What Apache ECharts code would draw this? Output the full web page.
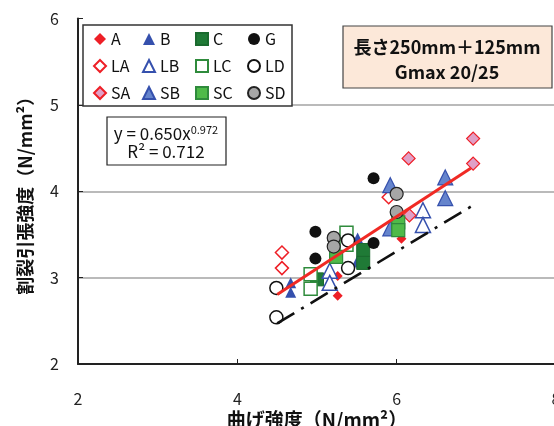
<!DOCTYPE html>
<html>
<head>
<meta charset="utf-8">
<script src="https://cdn.jsdelivr.net/npm/echarts@6/dist/echarts.min.js"></script>
<style>
  html, body { margin: 0; padding: 0; background: #fff; }
  #chart { width: 554px; height: 426px; }
</style>
</head>
<body>
<div id="chart"></div>
<script>
const FONT = '"Noto Sans CJK JP", "Noto Sans", sans-serif';

// Specimen results: [flexural strength, splitting tensile strength] (N/mm²)
const A  = [[5.26, 3.02], [5.26, 2.79], [6.06, 3.45]];
const B  = [[4.67, 2.94], [4.67, 2.83], [5.50, 3.18], [5.51, 3.46]];
const C  = [[5.58, 3.32], [5.58, 3.17], [5.00, 2.98]];
const G  = [[5.71, 4.15], [4.98, 3.53], [4.98, 3.22], [5.71, 3.40]];
const LA = [[4.56, 3.29], [4.56, 3.11], [5.90, 3.93]];
const LB = [[5.16, 3.08], [5.16, 2.94], [6.33, 3.78], [6.33, 3.61]];
const LC = [[5.37, 3.52], [5.37, 3.38], [4.92, 3.04], [4.92, 2.87]];
const LD = [[4.49, 2.88], [4.49, 2.54], [5.39, 3.43], [5.39, 3.11]];
const SA = [[6.15, 4.38], [6.96, 4.61], [6.96, 4.32], [6.16, 3.72]];
const SB = [[5.92, 4.07], [5.92, 3.57], [6.61, 4.16], [6.61, 3.92]];
const SC = [[5.24, 3.24], [6.02, 3.64], [6.02, 3.55]];
const SD = [[5.21, 3.46], [5.21, 3.36], [6.00, 3.97], [6.00, 3.76]];

// Power-law fit y = a·x^b over the range of the data
const fitCoef = { a: 0.650, b: 0.972 };
const fitRangeX = [4.5, 6.93];
// Lower reference line end points
const refLine = [[4.5, 2.47], [7.0, 3.86]];

const xTicks = { min: 2, max: 8, interval: 2 };
const yTicks = { min: 2, max: 6, interval: 1 };

const fitLine = fitRangeX.map(x => [x, fitCoef.a * Math.pow(x, fitCoef.b)]);

function mk(name, data, symbol, size, fill, stroke, bw) {
  return {
    name, type: 'scatter', data, symbol, symbolSize: size,
    itemStyle: { color: fill, borderColor: stroke, borderWidth: bw, opacity: 1 },
    emphasis: { disabled: true }, z: 2
  };
}

const series = [
  mk('A',  A,  'diamond',  10, '#ee1f26', '#ee1f26', 0),
  mk('B',  B,  'triangle', 11, '#3550ad', '#3550ad', 0),
  mk('C',  C,  'rect',     13, '#1f7a36', '#1a6a2e', 1),
  mk('G',  G,  'circle',   12, '#111111', '#111111', 0),
  mk('LA', LA, 'diamond',  13, '#ffffff', '#ee1f26', 1.5),
  mk('LB', LB, 'triangle', 15, '#ffffff', '#3550ad', 1.5),
  mk('LC', LC, 'rect',     13, '#ffffff', '#2f8b3c', 1.5),
  mk('LD', LD, 'circle',   13, '#ffffff', '#111111', 1.5),
  mk('SA', SA, 'diamond',  13, '#e0a0c6', '#ee1f26', 1.2),
  mk('SB', SB, 'triangle', 15, '#6584cc', '#3550ad', 1.2),
  mk('SC', SC, 'rect',     13, '#4fba49', '#2f8b3c', 1.2),
  mk('SD', SD, 'circle',   13, '#a6a6a6', '#222222', 1.2),
  {
    type: 'line', data: fitLine, showSymbol: false, silent: true, z: 3,
    lineStyle: { color: '#f02a24', width: 3 }
  },
  {
    type: 'line', data: refLine, showSymbol: false, silent: true, z: 3,
    lineStyle: { color: '#111', width: 2.6, type: [20, 8, 3, 8] }
  }
];

const legendCommon = {
  orient: 'vertical', top: 31, itemWidth: 12, itemHeight: 12, itemGap: 11,
  selectedMode: false, padding: 0, z: 5,
  textStyle: { fontFamily: FONT, fontSize: 16, color: '#111', lineHeight: 16 }
};

const option = {
  animation: false,
  backgroundColor: '#fff',
  grid: { left: 78, right: -2, top: 18.5, bottom: 62, containLabel: false, outerBoundsMode: 'none' },
  xAxis: {
    type: 'value', min: xTicks.min, max: xTicks.max, interval: xTicks.interval,
    name: '曲げ強度（N/mm²）', nameLocation: 'middle', nameGap: 46, nameMoveOverlap: false,
    nameTextStyle: { fontFamily: FONT, fontSize: 19, fontWeight: 'bold', color: '#111' },
    axisLine: { show: true, lineStyle: { color: '#222', width: 2 } },
    axisTick: { show: true, inside: true, length: 5, lineStyle: { color: '#222', width: 1 } },
    axisLabel: { fontFamily: FONT, fontSize: 16, color: '#222', margin: 27, showMinLabel: true, showMaxLabel: true },
    splitLine: { show: false }
  },
  yAxis: {
    type: 'value', min: yTicks.min, max: yTicks.max, interval: yTicks.interval,
    name: '割裂引張強度（N/mm²）', nameLocation: 'middle', nameGap: 44, nameMoveOverlap: false,
    nameTextStyle: { fontFamily: FONT, fontSize: 18, fontWeight: 'bold', color: '#111' },
    axisLine: { show: true, lineStyle: { color: '#222', width: 2 } },
    axisTick: { show: true, inside: true, length: 5, lineStyle: { color: '#222', width: 1 } },
    axisLabel: { fontFamily: FONT, fontSize: 16, color: '#222', margin: 19, showMinLabel: true, showMaxLabel: true },
    splitLine: { show: true, showMinLine: false, showMaxLine: false, lineStyle: { color: '#a3a3a3', width: 1.5 } }
  },
  legend: [
    Object.assign({ left: 93,  data: ['A', 'LA', 'SA'] }, legendCommon),
    Object.assign({ left: 142, data: ['B', 'LB', 'SB'] }, legendCommon),
    Object.assign({ left: 195, data: ['C', 'LC', 'SC'] }, legendCommon),
    Object.assign({ left: 247, data: ['G', 'LD', 'SD'] }, legendCommon)
  ],
  graphic: [
    {
      type: 'rect', z: 3, silent: true,
      shape: { x: 83, y: 25, width: 209, height: 81 },
      style: { fill: '#fff', stroke: '#333', lineWidth: 1.5 }
    },
    {
      type: 'rect', z: 3, silent: true,
      shape: { x: 343, y: 26, width: 209, height: 62 },
      style: { fill: '#fce8d9', stroke: '#444', lineWidth: 1.2 }
    },
    {
      type: 'text', z: 4, silent: true, x: 447, y: 47,
      style: { text: '長さ250mm＋125mm', fontFamily: FONT, fontSize: 18, fontWeight: 'bold', fill: '#111', align: 'center', verticalAlign: 'middle' }
    },
    {
      type: 'text', z: 4, silent: true, x: 447, y: 72,
      style: { text: 'Gmax 20/25', fontFamily: FONT, fontSize: 18, fontWeight: 'bold', fill: '#111', align: 'center', verticalAlign: 'middle' }
    },
    {
      type: 'rect', z: 3, silent: true,
      shape: { x: 107, y: 117, width: 119, height: 48 },
      style: { fill: '#fff', stroke: '#222', lineWidth: 1.2 }
    },
    {
      type: 'text', z: 4, silent: true, x: 166, y: 134,
      style: {
        text: '{n|y = 0.650x}{s|0.972}',
        align: 'center', verticalAlign: 'middle',
        rich: {
          n: { fontFamily: FONT, fontSize: 17, fill: '#111', color: '#111', lineHeight: 20 },
          s: { fontFamily: FONT, fontSize: 11, fill: '#111', color: '#111', verticalAlign: 'top', lineHeight: 20, padding: [0, 0, 8, 0] }
        }
      }
    },
    {
      type: 'text', z: 4, silent: true, x: 166, y: 152,
      style: { text: 'R² = 0.712', fontFamily: FONT, fontSize: 17, fill: '#111', align: 'center', verticalAlign: 'middle' }
    }
  ],
  series
};

const chart = echarts.init(document.getElementById('chart'), null, { renderer: 'canvas' });
chart.setOption(option);
</script>
</body>
</html>
